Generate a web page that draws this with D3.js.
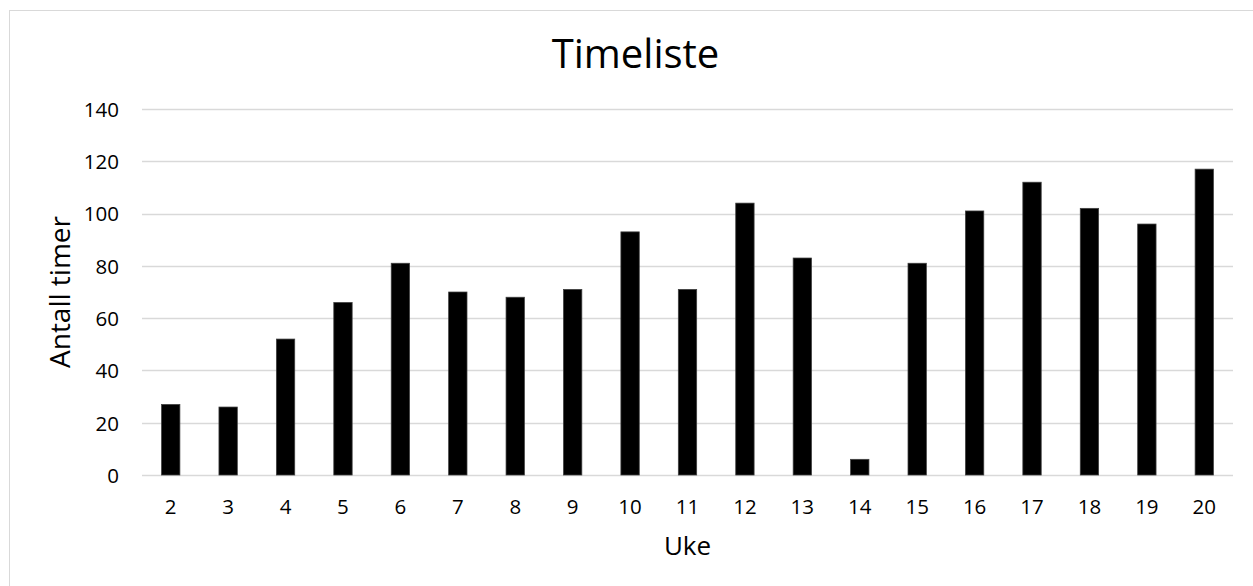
<!DOCTYPE html>
<html>
<head>
<meta charset="utf-8">
<script src="https://cdn.jsdelivr.net/npm/d3@7"></script>
<style>
html,body{margin:0;padding:0;background:#fff;}
svg{display:block;font-family:"Open Sans","DejaVu Sans",sans-serif;}
</style>
</head>
<body>
<svg id="chart" width="1253" height="586"></svg>
<script>
const weeks = ["2","3","4","5","6","7","8","9","10","11","12","13","14","15","16","17","18","19","20"];
const hours = [27,26,52,66,81,70,68,71,93,71,104,83,6,81,101,112,102,96,117];
const yTicks = [0,20,40,60,80,100,120,140];
const chartTitle = "Timeliste";
const xTitle = "Uke";
const yTitle = "Antall timer";

const FONT = "'Open Sans','DejaVu Sans',sans-serif";
const svg = d3.select("#chart");
const W = 1253, H = 586;
const plot = {left:142, right:1233, top:109, bottom:475};

svg.append("rect").attr("x",9.5).attr("y",10.5).attr("width",W).attr("height",H)
  .attr("fill","#fff").attr("stroke","#d9d9d9").attr("stroke-width",1);

const x = d3.scaleBand().domain(weeks).range([plot.left, plot.right])
  .paddingInner(0.68).paddingOuter(0.34);
const y = d3.scaleLinear().domain([0,140]).range([plot.bottom, plot.top]);

// gridlines
svg.append("g").selectAll("line").data(yTicks).join("line")
  .attr("x1",plot.left).attr("x2",plot.right)
  .attr("y1",d=>Math.round(y(d))+0.5).attr("y2",d=>Math.round(y(d))+0.5)
  .attr("stroke","#d9d9d9").attr("stroke-width",1.5);

// y axis labels
const yAxis = d3.axisLeft(y).tickValues(yTicks).tickSize(0).tickPadding(23);
const gy = svg.append("g").attr("transform",`translate(${plot.left},0)`).call(yAxis);
gy.select(".domain").remove();
gy.selectAll("text").attr("font-size",20.5).attr("fill","#000")
  .attr("font-family",FONT).attr("dy","0.36em");

// bars
svg.append("g").selectAll("rect").data(weeks.map((w,i)=>({w,v:hours[i]}))).join("rect")
  .attr("x",d=>x(d.w)).attr("width",x.bandwidth())
  .attr("y",d=>y(d.v)).attr("height",d=>y(0)-y(d.v))
  .attr("fill","#000").attr("stroke","#404040").attr("stroke-width",0.75);

// x axis labels
const xAxis = d3.axisBottom(x).tickSize(0).tickPadding(24);
const gx = svg.append("g").attr("transform",`translate(0,${plot.bottom})`).call(xAxis);
gx.select(".domain").remove();
gx.selectAll("text").attr("font-size",20.5).attr("fill","#000")
  .attr("font-family",FONT).attr("dy","0.71em");

// titles
svg.append("text").attr("x",635.5).attr("y",67.5).attr("text-anchor","middle")
  .attr("font-size",40).attr("fill","#000").text(chartTitle);
svg.append("text").attr("x",(plot.left+plot.right)/2).attr("y",555).attr("text-anchor","middle")
  .attr("font-size",26).attr("fill","#000").text(xTitle);
svg.append("text").attr("transform",`translate(70,${(plot.top+plot.bottom)/2}) rotate(-90)`)
  .attr("text-anchor","middle").attr("font-size",28).attr("fill","#000").text(yTitle);
</script>
</body>
</html>
